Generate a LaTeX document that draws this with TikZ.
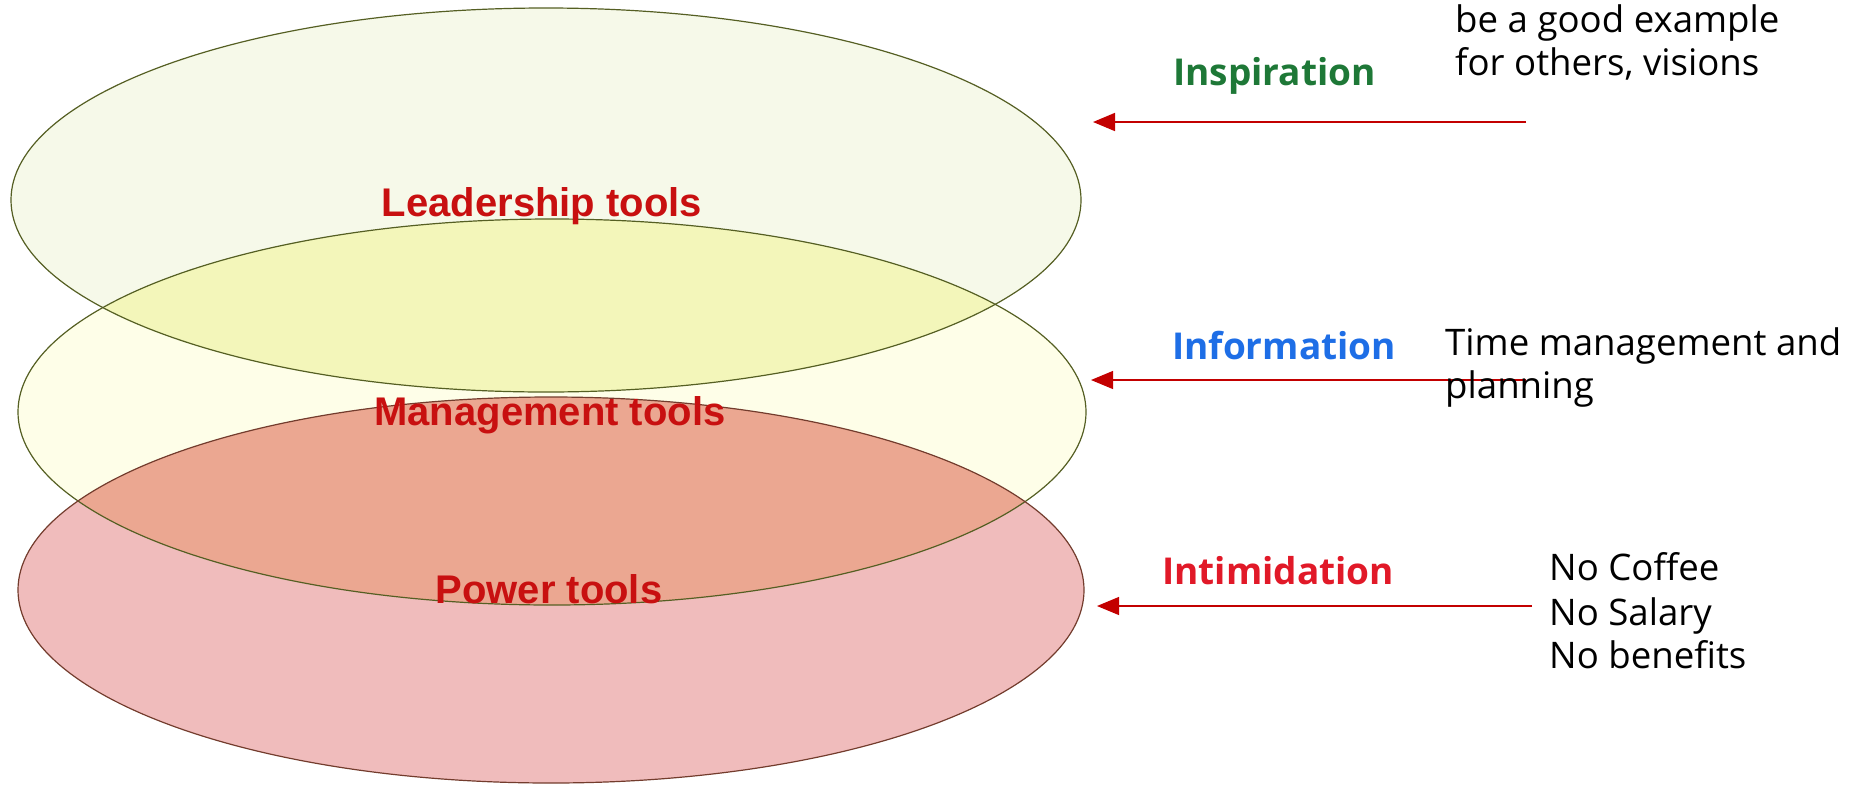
\documentclass[tikz,border=0pt]{standalone}
\usepackage{fontspec}
\setmainfont{Open Sans}
\newfontfamily\libsans{Liberation Sans}
\usetikzlibrary{arrows.meta}
\definecolor{topfill}{RGB}{246,249,233}
\definecolor{midfill}{RGB}{254,254,232}
\definecolor{botfill}{RGB}{240,188,188}
\definecolor{tmfill}{RGB}{243,246,186}
\definecolor{mbfill}{RGB}{235,167,145}
\definecolor{olive}{RGB}{85,95,35}
\definecolor{brownline}{RGB}{115,60,45}
\definecolor{tooltext}{RGB}{200,16,16}
\definecolor{arrowred}{RGB}{195,0,0}
\definecolor{inspgreen}{RGB}{30,120,55}
\definecolor{infoblue}{RGB}{30,110,230}
\definecolor{intired}{RGB}{225,25,40}
\tikzset{
  toollabel/.style={anchor=base, text=tooltext, font=\libsans\bfseries\fontsize{40}{47}\selectfont, inner sep=0pt},
  kindlabel/.style={anchor=base west, font=\bfseries\fontsize{37}{44}\selectfont, inner sep=0pt},
  notetext/.style={anchor=base west, font=\fontsize{36.6}{43}\selectfont, inner sep=0pt},
  pointer/.style={draw=arrowred, line width=1.2pt, -{Triangle[length=22pt,width=18pt]}},
}
\begin{document}
\begin{tikzpicture}[x=1pt,y=-1pt]
\useasboundingbox (0,0) rectangle (1862,785);
% ellipses
\def\topE{(546,200) ellipse [x radius=535, y radius=192]}
\def\midE{(552,412) ellipse [x radius=534, y radius=193]}
\def\botE{(551,590) ellipse [x radius=533, y radius=193]}
\fill[topfill] \topE;
\fill[midfill] \midE;
\fill[botfill] \botE;
\begin{scope}
  \clip \topE;
  \fill[tmfill] \midE;
\end{scope}
\begin{scope}
  \clip \midE;
  \fill[mbfill] \botE;
\end{scope}
\draw[olive, line width=1.2pt] \topE;
\draw[olive, line width=1.2pt] \midE;
\draw[brownline, line width=1.2pt] \botE;
% tool labels
\node[toollabel] (lead) at (542,216) {Leadership tools};
\node[toollabel] (mgmt) at (550,425) {Management tools};
\node[toollabel] (pow) at (549,603) {Power tools};
% kind labels
\node[kindlabel, text=inspgreen] (insp) at (1173,85) {Inspiration};
\node[kindlabel, text=infoblue] (info) at (1172,359) {Information};
\node[kindlabel, text=intired] (inti) at (1162,584) {Intimidation};
% notes
\node[notetext] (n1a) at (1455,32) {be a good example};
\node[notetext] (n1b) at (1455,75) {for others, visions};
% arrows
\coordinate (t1) at (1526,122); \coordinate (h1) at (1093,122);
\coordinate (t2) at (1526,380); \coordinate (h2) at (1091,380);
\coordinate (t3) at (1532,606); \coordinate (h3) at (1097,606);
\draw[pointer, line width=1.7pt] (t1) -- (h1);
\draw[pointer] (t2) -- (h2);
\draw[pointer] (t3) -- (h3);
\node[notetext] (n2a) at (1445,355) {Time management and};
\node[notetext] (n2b) at (1445,398) {planning};
\node[notetext] (n3a) at (1549,580) {No Coffee};
\node[notetext] (n3b) at (1549,625) {No Salary};
\node[notetext] (n3c) at (1549,668) {No benefits};
\end{tikzpicture}
\end{document}
